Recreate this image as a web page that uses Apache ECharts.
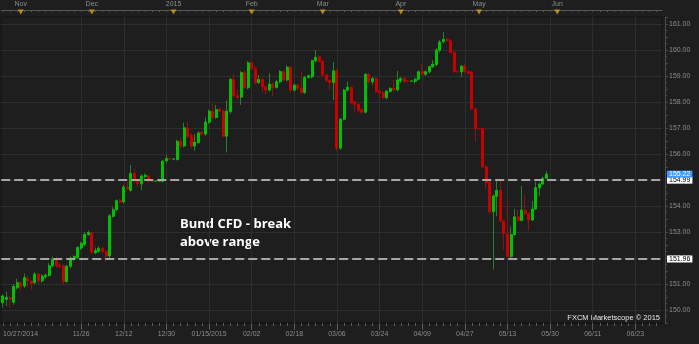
<!DOCTYPE html>
<html><head><meta charset="utf-8">
<script src="https://cdn.jsdelivr.net/npm/echarts@6/dist/echarts.min.js"></script>
<style>html,body{margin:0;padding:0;background:#1e1e1e;}#c{width:699px;height:344px;}</style>
</head><body><div id="c"></div>
<script>
// ---- data (daily Bund CFD candles) ----
const opens = [150.28,150.41,150.48,150.30,150.85,151.05,150.92,151.20,151.10,151.05,
151.38,151.12,151.28,151.33,151.70,151.95,151.72,151.70,151.10,151.68,
151.98,152.02,152.38,152.52,152.90,152.96,152.20,152.26,152.37,152.25,
152.08,153.60,153.85,154.20,154.16,154.72,154.60,155.25,154.95,154.85,
155.13,155.15,154.96,154.95,154.95,154.95,155.73,155.82,155.80,155.78,
156.48,156.30,156.98,156.72,156.30,156.43,156.82,156.76,157.22,157.64,
157.40,157.72,157.64,156.68,157.62,158.86,158.24,158.18,159.12,158.54,
159.50,159.28,158.74,158.86,158.58,158.45,158.68,158.55,158.77,159.16,
158.84,159.33,158.45,158.64,158.52,158.36,158.94,158.96,159.58,159.73,
159.56,159.03,158.82,158.74,159.19,156.22,157.33,158.45,158.56,158.00,
157.90,157.70,157.60,159.06,158.77,158.89,158.41,158.35,158.16,158.40,
158.52,158.46,158.80,158.90,158.80,158.79,158.79,158.87,159.16,159.06,
159.15,159.35,159.43,159.98,160.31,160.41,160.35,159.90,159.16,159.15,
159.37,159.17,159.14,157.72,156.98,156.97,155.50,154.92,153.78,154.36,
154.60,153.42,152.92,152.06,152.90,153.58,153.44,153.84,153.70,153.46,
153.88,154.70,154.84,155.06];
const closes = [150.54,150.49,150.42,150.90,151.05,150.90,151.25,151.12,151.02,151.38,
151.12,151.30,151.33,151.70,151.95,151.70,151.67,151.10,151.68,152.00,
152.05,152.40,152.56,152.90,152.98,152.22,152.28,152.37,152.25,152.08,
153.62,153.85,154.20,154.15,154.72,154.66,155.25,154.95,154.87,155.15,
155.18,154.96,154.95,154.95,154.98,155.72,155.82,155.80,155.80,156.48,
156.30,157.00,156.66,156.30,156.45,156.80,156.76,157.22,157.64,157.40,
157.70,157.64,156.68,157.64,158.86,158.22,158.18,159.12,158.54,159.50,
159.27,158.74,158.86,158.58,158.45,158.68,158.55,158.77,159.16,158.84,
159.33,158.45,158.64,158.52,158.36,158.94,159.00,159.58,159.71,159.56,
159.03,158.82,158.74,159.19,156.22,157.33,158.45,158.56,157.96,157.90,
157.68,157.60,159.06,158.77,158.89,158.39,158.34,158.16,158.41,158.52,
158.46,158.84,158.90,158.79,158.79,158.80,158.87,159.16,159.07,159.16,
159.35,159.45,159.99,160.30,160.40,160.35,159.89,159.16,159.15,159.37,
159.16,159.10,157.72,156.98,156.97,155.50,154.90,153.78,154.38,154.60,
153.42,152.92,152.06,152.90,153.58,153.44,153.84,153.70,153.46,153.88,
154.70,154.84,155.06,155.22];
const lows = [150.09,150.15,150.10,150.20,150.80,150.75,150.85,150.90,150.77,151.00,
151.00,151.05,151.20,151.28,151.65,151.60,151.60,150.96,151.05,151.60,
151.90,151.95,152.30,152.45,152.85,152.15,152.15,152.20,152.18,151.85,
152.00,153.55,153.80,154.10,154.10,154.60,154.55,154.90,154.74,154.60,
155.05,154.90,154.93,154.93,154.93,154.90,155.66,155.78,155.78,155.75,
156.20,156.25,156.60,156.20,156.12,156.40,156.70,156.70,157.15,157.35,
157.35,157.60,156.64,156.05,157.55,158.15,158.10,157.88,158.48,158.48,
159.20,158.68,158.68,158.39,158.30,158.40,158.20,158.50,158.70,158.78,
158.78,158.33,158.40,158.45,158.30,158.30,158.90,158.90,159.50,159.50,
158.98,158.75,158.45,158.07,156.10,156.15,157.28,158.40,157.90,157.62,
157.60,157.52,157.55,158.70,158.66,158.33,158.13,158.10,158.10,158.35,
158.40,158.40,158.72,158.72,158.77,158.77,158.70,158.82,159.00,159.00,
159.10,159.30,159.38,159.90,160.25,160.30,159.85,159.10,159.13,158.96,
159.10,159.05,157.68,156.47,156.95,155.45,154.64,153.70,151.55,153.60,
153.38,152.30,151.98,151.98,152.85,153.40,153.40,153.65,153.05,153.42,
153.84,154.38,154.80,155.02];
const highs = [150.60,150.70,150.55,151.00,151.20,151.10,151.40,151.30,151.15,151.45,
151.42,151.38,151.40,151.80,152.05,152.05,151.80,151.75,151.72,152.05,
152.10,152.45,152.62,153.00,153.05,153.00,152.40,152.45,152.42,152.30,
153.68,153.95,154.25,154.27,154.80,154.93,155.57,155.44,155.00,155.22,
155.25,155.20,154.98,154.97,155.00,155.75,155.95,155.85,155.82,156.55,
156.60,157.20,157.23,156.80,156.76,156.88,156.88,157.40,157.70,157.94,
157.88,157.78,157.70,158.05,158.92,159.06,158.48,159.18,159.20,159.56,
159.55,159.37,159.03,158.92,158.62,159.10,158.75,158.85,159.22,159.20,
159.40,159.38,158.70,158.68,159.16,159.00,159.05,159.62,159.99,159.80,
159.60,159.08,158.88,159.52,159.25,157.38,158.50,158.77,158.60,158.05,
157.95,157.75,159.10,159.10,158.96,158.95,158.45,158.40,158.45,158.56,
158.84,159.19,158.95,158.94,158.82,158.82,158.92,159.20,159.45,159.20,
159.40,159.60,160.05,160.37,160.69,160.45,160.40,159.95,159.18,159.42,
159.48,159.20,159.18,157.76,157.00,157.00,155.55,154.95,154.45,154.97,
155.02,153.45,154.16,153.20,153.88,153.85,154.76,154.44,153.75,154.19,
154.93,154.90,155.12,155.34];
const levels = [154.99, 151.96];          // dashed support / resistance
const monthMarks = [['2014-11-03','Nov'],['2014-12-01','Dec'],['2015-01-01','2015'],['2015-02-02','Feb'],
  ['2015-03-02','Mar'],['2015-04-01','Apr'],['2015-05-01','May'],['2015-06-02','Jun']];
const bottomTicks = [['2014-10-27','10/27/2014'],['2014-11-26','11/26'],['2014-12-12','12/12'],['2014-12-30','12/30'],
  ['2015-01-15','01/15/2015'],['2015-02-02','02/02'],['2015-02-18','02/18'],['2015-03-06','03/06'],['2015-03-24','03/24'],
  ['2015-04-09','04/09'],['2015-04-27','04/27'],['2015-05-13','05/13'],['2015-05-29','05/30'],['2015-06-16','06/11'],['2015-07-02','06/23']];
const yMin = 149.5, yMax = 161.26, yStep = 0.5;
const NCAT = 186;
// weekday categories
const categories = [];
(function(){ const d = new Date(Date.UTC(2014,9,27));
  while (categories.length < NCAT) { const w = d.getUTCDay(); if (w !== 0 && w !== 6) categories.push(d.toISOString().slice(0,10)); d.setUTCDate(d.getUTCDate()+1); } })();

const bottomMap = new Map(bottomTicks.map(t => [categories.indexOf(t[0]), t[1]]));
const monthMap = new Map(monthMarks.map(t => [categories.indexOf(t[0]), t[1]]));
const firstTick = [...bottomMap.keys()][1];

const fullData = opens.map((o,i) => [o, closes[i], lows[i], highs[i]]);
const bodyData = opens.map((o,i) => [o, closes[i], Math.min(o, closes[i]), Math.max(o, closes[i])]);
const lastClose = closes[closes.length - 1];

const FONT = 'Liberation Sans';
const GRID = '#2e2e2e';
const chart = echarts.init(document.getElementById('c'), null, {renderer:'canvas'});
chart.setOption({
  animation: false,
  backgroundColor: '#1e1e1e',
  grid: {left: 0, right: 37, top: 17, bottom: 21, show: true, backgroundColor: '#1e1e1e', borderColor: '#121212', borderWidth: 1},
  xAxis: [
    { type: 'category', data: categories, position: 'bottom', boundaryGap: true,
      axisLine: {lineStyle: {color: '#111'}},
      axisTick: {show: true, interval: 1, alignWithLabel: true, length: 3, lineStyle: {color: '#5a5a5a'}},
      axisLabel: {interval: (i) => bottomMap.has(i), formatter: (v, i) => bottomMap.get(i) || '',
        color: '#8c8c8c', fontSize: 7, fontFamily: FONT, margin: 8, alignMinLabel: 'left'},
      splitLine: {show: true, interval: (i) => bottomMap.has(i) && i >= firstTick, alignWithLabel: true, lineStyle: {color: GRID}} },
    { type: 'category', data: categories, position: 'top', offset: 7, boundaryGap: true,
      axisLine: {lineStyle: {color: '#555'}},
      axisTick: {show: true, inside: true, interval: 1, alignWithLabel: true, length: 2, lineStyle: {color: '#555'}},
      axisLabel: {interval: (i) => monthMap.has(i), formatter: (v, i) => monthMap.get(i) || '',
        color: '#8c8c8c', fontSize: 7, fontFamily: FONT, margin: 2},
      splitLine: {show: false} },
    { type: 'category', data: categories, position: 'bottom', boundaryGap: true,
      axisLine: {show: false}, axisLabel: {show: false}, splitLine: {show: false},
      axisTick: {show: true, interval: (i) => bottomMap.has(i) && i >= firstTick, alignWithLabel: true, length: 7, lineStyle: {color: '#5a5a5a'}} }
  ],
  yAxis: { type: 'value', position: 'right', min: yMin, max: yMax, interval: yStep, offset: 3,
    axisLine: {show: true, lineStyle: {color: '#4a4a4a'}},
    axisTick: {show: true, length: 3, lineStyle: {color: '#4a4a4a'}},
    minorTick: {show: true, splitNumber: 2, length: 2, lineStyle: {color: '#4a4a4a'}},
    axisLabel: {formatter: (v) => Math.abs(v - Math.round(v)) < 1e-6 ? v.toFixed(2) : '',
      color: '#8c8c8c', fontSize: 7, fontFamily: FONT, margin: 4},
    splitLine: {show: true, lineStyle: {color: ['rgba(0,0,0,0)', GRID]}} },
  graphic: [
    {type: 'text', left: 180, top: 215, style: {text: 'Bund CFD - break\nabove range', fill: '#ffffff',
      fontSize: 13, fontWeight: 'bold', fontFamily: 'Open Sans', lineHeight: 18}},
    {type: 'text', right: 39, top: 314, style: {text: 'FXCM Marketscope © 2015', fill: '#e6e6e6', fontSize: 7.5, fontFamily: FONT}}
  ],
  series: [
    { name: 'wick', type: 'candlestick', data: fullData, barWidth: 1, silent: true,
      itemStyle: {color: '#2a7f2a', color0: '#8a1414', borderColor: '#2a7f2a', borderColor0: '#8a1414', borderColorDoji: '#2a7f2a', borderWidth: 1} },
    { name: 'body', type: 'candlestick', data: bodyData, barWidth: 2.5, silent: true,
      itemStyle: {color: '#00c000', color0: '#c80000', borderColor: '#00c000', borderColor0: '#c80000', borderColorDoji: '#00c000', borderWidth: 1},
      markLine: { silent: true, symbol: 'none', animation: false,
        lineStyle: {type: [9, 4], color: '#a6a6a6', width: 2},
        label: {position: 'end', formatter: (p) => p.value.toFixed(2), backgroundColor: '#ffffff', color: '#000',
          fontSize: 7, lineHeight: 7, fontFamily: FONT, padding: [0, 2, 0, 2], distance: 5},
        data: levels.map(v => ({yAxis: v})) } },
    { name: 'last', type: 'line', data: [], silent: true, z: 5,
      markLine: { silent: true, symbol: 'none', animation: false,
        lineStyle: {color: 'rgba(0,0,0,0)', width: 1, type: 'solid'},
        label: {position: 'end', formatter: (p) => p.value.toFixed(2), backgroundColor: '#3d9bff', color: '#ffffff',
          fontSize: 7, lineHeight: 7, fontFamily: FONT, padding: [0, 2, 0, 2], distance: 5},
        data: [{yAxis: lastClose}] } },
    { name: 'months', type: 'scatter', xAxisIndex: 0, clip: false, silent: true, z: 10,
      symbol: 'triangle', symbolRotate: 180, symbolSize: [6, 5], symbolOffset: [0, -5],
      itemStyle: {color: '#d4a11c'},
      data: monthMarks.map(m => [categories.indexOf(m[0]), yMax]) }
  ]
});
</script></body></html>
